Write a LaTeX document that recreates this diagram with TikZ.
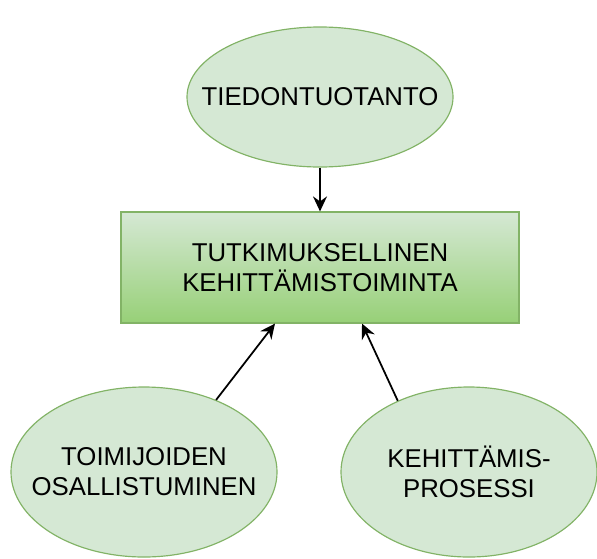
\documentclass[tikz,border=0pt]{standalone}
\usepackage{fontspec}
\setmainfont{Liberation Sans}
\usepackage{tikz}
\usetikzlibrary{shapes.geometric}
\usetikzlibrary{arrows.meta}

\definecolor{lightgreen}{HTML}{D5E8D4}
\definecolor{midgreen}{HTML}{97D077}
\definecolor{edgegreen}{HTML}{82B366}

\begin{document}
\begin{tikzpicture}[
	bigfont/.style={font=\fontsize{22}{25.6}\selectfont},
	oval/.style={ellipse,draw=edgegreen,fill=lightgreen,line width=1pt,inner sep=0pt,minimum width=7.98cm},
	ovaltext/.style={label={[bigfont,align=center]center:#1}},
	mainbox/.style={rectangle,draw=edgegreen,line width=1pt,top color=lightgreen,bottom color=midgreen,
		minimum width=11.94cm,minimum height=3.33cm,align=center,bigfont},
	link/.style={line width=1.5pt,-{Stealth[length=4.5mm,width=4.2mm,inset=1.5mm]}}]
	\useasboundingbox (0,0) rectangle (17.91,-16.74);
	\path (9.6,-2.91) node(tieto)[oval,minimum height=4.2cm,ovaltext={TIEDONTUOTANTO}]{}
	(9.6,-8.025) node(tk)[mainbox]{TUTKIMUKSELLINEN\\KEHITTÄMISTOIMINTA}
	(4.32,-14.16) node(toim)[oval,minimum height=5.1cm,ovaltext={TOIMIJOIDEN\\OSALLISTUMINEN}]{}
	(14.07,-14.16) node(kehi)[oval,minimum width=7.68cm,minimum height=5.1cm,ovaltext={KEHITTÄMIS-\\PROSESSI}]{};
	\draw[link](tieto.south)--(tk.north);
	\draw[link](toim.45)--([xshift=-1.35cm]tk.south);
	\draw[link](kehi.135)--([xshift=1.26cm]tk.south);
\end{tikzpicture}
\end{document}
